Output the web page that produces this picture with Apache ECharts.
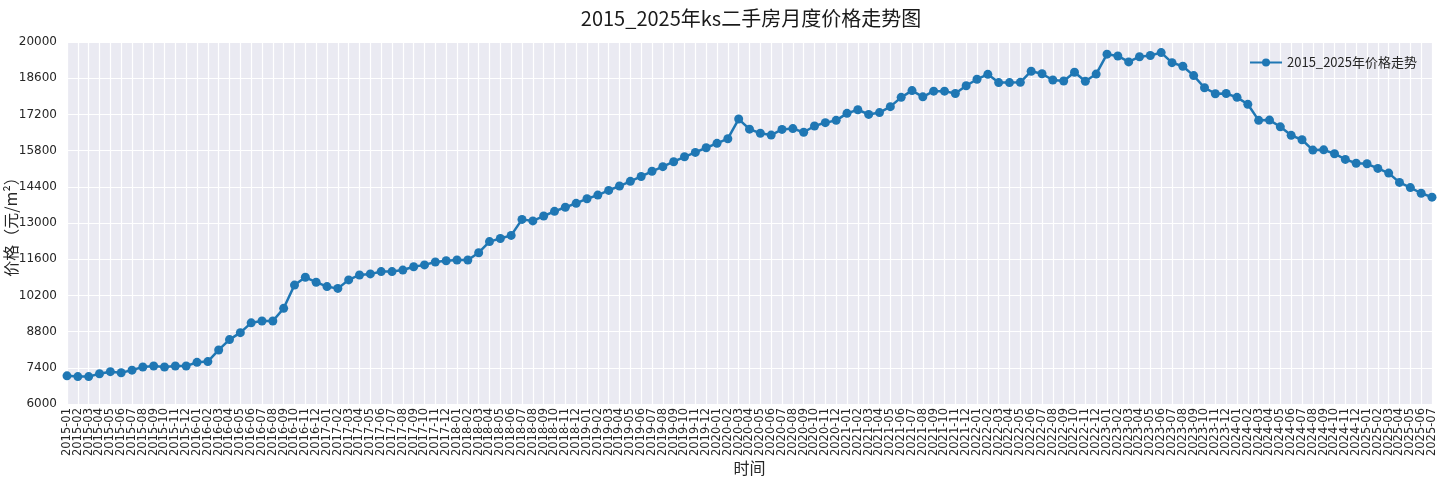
<!DOCTYPE html>
<html>
<head>
<meta charset="utf-8">
<script src="https://cdn.jsdelivr.net/npm/echarts@6/dist/echarts.min.js"></script>
<style>
  html, body { margin: 0; padding: 0; background: #fff; }
  #chart { width: 1440px; height: 480px; }
</style>
</head>
<body>
<div id="chart"></div>
<script>
// ── Data ─────────────────────────────────────────────────────────────────────
const START_YEAR = 2015;
const END_YEAR = 2025;
const END_MONTH = 7;

// month labels 2015-01 … 2025-07
const MONTHS = [];
for (let y = START_YEAR; y <= END_YEAR; y++) {
  for (let m = 1; m <= 12; m++) {
    if (y === END_YEAR && m > END_MONTH) break;
    MONTHS.push(y + '-' + String(m).padStart(2, '0'));
  }
}

// 元/m²
const PRICE_2015_2017 = [
  7090, 7060, 7060, 7170, 7250, 7210, 7310, 7430, 7470, 7430, 7470, 7470,
  7610, 7640, 8090, 8490, 8760, 9140, 9210, 9210, 9700, 10600, 10900, 10710,
  10540, 10470, 10800, 10990, 11030, 11120, 11120, 11180, 11310, 11380, 11490, 11540
];
const PRICE_2018_2020 = [
  11570, 11570, 11850, 12280, 12400, 12520, 13140, 13080, 13270, 13450, 13610, 13760,
  13940, 14080, 14260, 14430, 14610, 14800, 15000, 15180, 15370, 15560, 15730, 15910,
  16080, 16260, 17020, 16630, 16470, 16400, 16620, 16650, 16510, 16750, 16880, 16970
];
const PRICE_2021_2023 = [
  17240, 17380, 17200, 17270, 17500, 17860, 18120, 17880, 18100, 18100, 18010, 18310,
  18560, 18750, 18430, 18430, 18440, 18870, 18770, 18530, 18490, 18830, 18480, 18760,
  19530, 19460, 19230, 19430, 19480, 19590, 19200, 19060, 18700, 18230, 18000, 18010
];
const PRICE_2024_2025 = [
  17860, 17590, 16970, 16980, 16720, 16390, 16220, 15820, 15830, 15680, 15460, 15310,
  15290, 15110, 14930, 14570, 14370, 14150, 14000
];
const PRICES = [].concat(PRICE_2015_2017, PRICE_2018_2020, PRICE_2021_2023, PRICE_2024_2025);

const Y_MIN = 6000;
const Y_MAX = 20000;
const Y_STEP = 1400;

const TITLE = '2015_2025年ks二手房月度价格走势图';
const SERIES_NAME = '2015_2025年价格走势';

// ── Chart ────────────────────────────────────────────────────────────────────
const FONT = '"Noto Sans CJK SC", "DejaVu Sans", sans-serif';
const NUM_FONT = '"DejaVu Sans", sans-serif';
const chart = echarts.init(document.getElementById('chart'), null, { renderer: 'canvas' });

chart.setOption({
  animation: false,
  backgroundColor: '#ffffff',
  textStyle: { fontFamily: FONT },
  title: {
    text: TITLE,
    left: 746, textAlign: 'center', top: 3,
    textStyle: { fontSize: 20, fontWeight: 'normal', color: '#1a1a1a', fontFamily: FONT }
  },
  legend: {
    right: 18, top: 51,
    itemWidth: 32, itemHeight: 10, itemGap: 8,
    textStyle: { fontSize: 13, color: '#262626', fontFamily: FONT },
    data: [SERIES_NAME]
  },
  grid: {
    left: 67, right: 8, top: 42, bottom: 76,
    outerBoundsMode: 'none',
    containLabel: false,
    show: true, backgroundColor: '#EAEAF2', borderWidth: 0
  },
  xAxis: {
    type: 'category',
    data: MONTHS,
    boundaryGap: false,
    name: '时间',
    nameLocation: 'middle',
    nameGap: 56,
    nameMoveOverlap: false,
    nameTextStyle: { fontSize: 16, color: '#262626', fontFamily: FONT },
    axisLine: { show: false },
    axisTick: { show: false },
    axisLabel: {
      interval: 0, rotate: 90, fontSize: 11.5, color: '#262626', margin: 4,
      fontFamily: NUM_FONT
    },
    splitLine: { show: true, interval: 0, lineStyle: { color: '#ffffff', width: 1.2 } }
  },
  yAxis: {
    type: 'value',
    min: Y_MIN, max: Y_MAX, interval: Y_STEP,
    name: '价格（元/m²）',
    nameLocation: 'middle',
    nameGap: 48,
    nameMoveOverlap: false,
    nameTextStyle: { fontSize: 16, color: '#262626', fontFamily: FONT },
    axisLine: { show: false },
    axisTick: { show: false },
    axisLabel: {
      fontSize: 12, color: '#262626', margin: 10, fontFamily: NUM_FONT,
      formatter: v => String(v)
    },
    splitLine: { show: true, lineStyle: { color: '#ffffff', width: 1.2 } }
  },
  series: [{
    name: SERIES_NAME,
    type: 'line',
    data: PRICES,
    symbol: 'circle',
    symbolSize: 9,
    showAllSymbol: true,
    lineStyle: { color: '#1f77b4', width: 2.5 },
    itemStyle: { color: '#1f77b4' }
  }]
});
</script>
</body>
</html>
